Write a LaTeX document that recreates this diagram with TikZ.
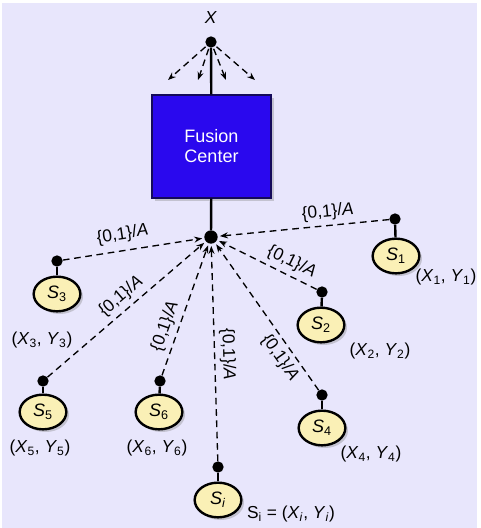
\documentclass[tikz,border=0pt]{standalone}
\usepackage{fontspec}
\setmainfont{Liberation Sans}
\usetikzlibrary{shapes.geometric,shadows,arrows.meta}
\definecolor{bgcol}{RGB}{232,230,252}
\definecolor{fcblue}{RGB}{42,8,238}
\definecolor{fcedge}{RGB}{20,10,90}
\definecolor{sensoryellow}{RGB}{250,240,182}
\newcommand{\bitmsg}{\{0,1\}/\textit{A}}
\tikzset{
  txt/.style={font=\fontsize{13}{15}\selectfont},
  dot/.style={circle,fill=black,inner sep=0pt,minimum size=8.5pt},
  sensor/.style={ellipse,draw,line width=1.8pt,fill=sensoryellow,minimum width=35pt,
    minimum height=26pt,inner sep=0pt,font=\fontsize{13.5}{15}\selectfont,
    drop shadow={shadow xshift=2pt,shadow yshift=-2pt,opacity=0.35}},
  fusion/.style={rectangle,draw=fcedge,line width=0.8pt,fill=fcblue,text=white,
    minimum width=89.25pt,minimum height=77.25pt,align=center,
    font=\fontsize{13.5}{15}\selectfont,
    drop shadow={shadow xshift=2.5pt,shadow yshift=-2.5pt,opacity=0.35}},
  stem/.style={line width=1.8pt},
  sig/.style={dashed,dash pattern=on 5pt off 3.5pt,line width=1pt,
    -{Stealth[length=6pt,width=4.5pt]},shorten >=1.5pt},
}
\begin{document}
\begin{tikzpicture}[x=0.75pt,y=-0.75pt]
  \fill[white] (0,0) rectangle (477,528);
  \fill[bgcol] (2,3) rectangle (477,528);
  \draw
    (211,18) node[txt] (x) {\textit{X}}
    (211,42) node[dot] (xd) {}
    (211.5,146.5) node[fusion] (fc) {Fusion\\Center}
    (211,237) node[dot,minimum size=10pt] (hub) {}
    (395,219) node[dot] (d1) {}
    (396,256) node[sensor] (s1) {\textit{S}\textsubscript{1}}
    (322,292) node[dot] (d2) {}
    (321,325) node[sensor] (s2) {\textit{S}\textsubscript{2}}
    (57,261) node[dot] (d3) {}
    (57,294) node[sensor] (s3) {\textit{S}\textsubscript{3}}
    (322,395) node[dot] (d4) {}
    (322,428) node[sensor] (s4) {\textit{S}\textsubscript{4}}
    (43,381) node[dot] (d5) {}
    (43,412) node[sensor] (s5) {\textit{S}\textsubscript{5}}
    (160,381) node[dot] (d6) {}
    (159,412) node[sensor] (s6) {\textit{S}\textsubscript{6}}
    (218,467) node[dot] (dj) {}
    (218,500) node[sensor] (sj) {\textit{S}\textsubscript{\textit{i}}}
    (446,277) node[txt] (p1) {(\textit{X}\textsubscript{1}, \textit{Y}\textsubscript{1})}
    (380,351) node[txt] (p2) {(\textit{X}\textsubscript{2}, \textit{Y}\textsubscript{2})}
    (42,340) node[txt] (p3) {(\textit{X}\textsubscript{3}, \textit{Y}\textsubscript{3})}
    (371,454) node[txt] (p4) {(\textit{X}\textsubscript{4}, \textit{Y}\textsubscript{4})}
    (40,448) node[txt] (p5) {(\textit{X}\textsubscript{5}, \textit{Y}\textsubscript{5})}
    (157,448) node[txt] (p6) {(\textit{X}\textsubscript{6}, \textit{Y}\textsubscript{6})}
    (291,514) node[txt] (pj) {S\textsubscript{i} = (\textit{X}\textsubscript{\textit{i}}, \textit{Y}\textsubscript{\textit{i}})};
  \coordinate (a1) at (168,80);
  \coordinate (a2) at (198,80);
  \coordinate (a3) at (226,80);
  \coordinate (a4) at (255,80);
  \begin{scope}[stem]
    \draw (xd) -- (fc);
    \draw (fc) -- (hub);
    \draw (d1) -- (s1);
    \draw (d2) -- (s2);
    \draw (d3) -- (s3);
    \draw (d4) -- (s4);
    \draw (d5) -- (s5);
    \draw (d6) -- (s6);
    \draw (dj) -- (sj);
  \end{scope}
  \begin{scope}[sig]
    \draw[shorten <=1pt,shorten >=0pt] (xd) -- (a1);
    \draw[shorten <=1pt,shorten >=0pt] (xd) -- (a2);
    \draw[shorten <=1pt,shorten >=0pt] (xd) -- (a3);
    \draw[shorten <=1pt,shorten >=0pt] (xd) -- (a4);
    \draw (d1) -- node[txt,sloped,above,pos=0.35] {\bitmsg} (hub);
    \draw (d2) -- node[txt,sloped,above,pos=0.31] {\bitmsg} (hub);
    \draw (d3) -- node[txt,sloped,above=2pt,pos=0.44] {\bitmsg} (hub);
    \draw (d4) -- node[txt,sloped,below,pos=0.27] {\bitmsg} (hub);
    \draw (d5) -- node[txt,sloped,above,pos=0.52] {\bitmsg} (hub);
    \draw (d6) -- node[txt,sloped,above,pos=0.34] {\bitmsg} (hub);
    \draw (dj) -- node[txt,sloped,above,pos=0.49] {\bitmsg} (hub);
  \end{scope}
\end{tikzpicture}
\end{document}
